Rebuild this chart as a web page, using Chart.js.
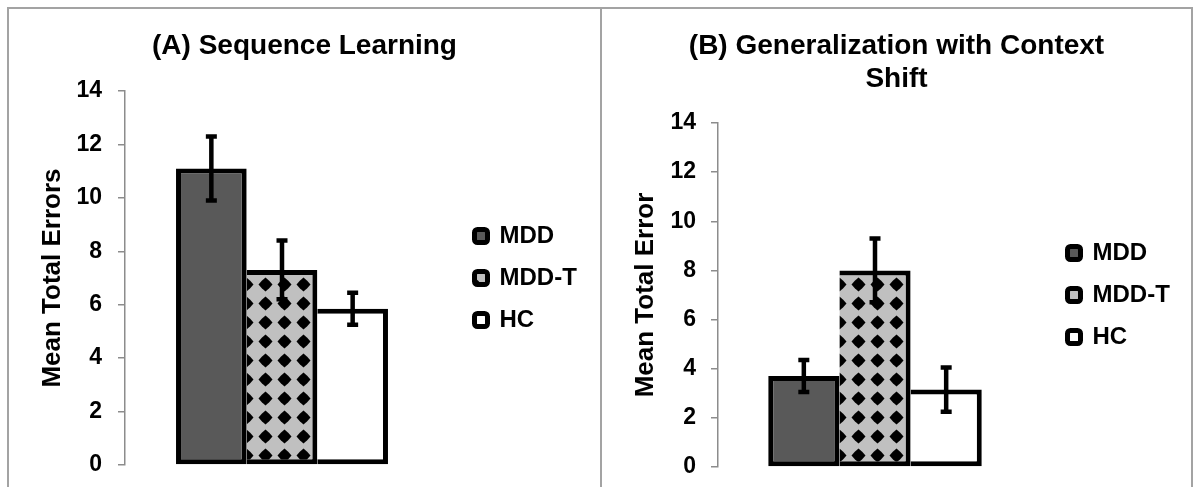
<!DOCTYPE html>
<html>
<head>
<meta charset="utf-8">
<title>Mean Total Errors</title>
<script src="https://cdn.jsdelivr.net/npm/chart.js@4.4.1/dist/chart.umd.min.js"></script>
<style>
  html, body { margin: 0; padding: 0; background: #fff; overflow: hidden; }
  body { width: 1195px; height: 487px; position: relative; }
  .pannello { position: absolute; top: 7px; height: 540px; border: 2px solid #a3a3a3; box-sizing: border-box; }
  #pannello-a { left: 7px; width: 595px; }
  #pannello-b { left: 600px; width: 593px; }
  .contenitore { position: absolute; top: 9px; height: 478px; }
  #contenitore-a { left: 9px; width: 591px; }
  #contenitore-b { left: 602px; width: 589px; }
</style>
</head>
<body>
<div class="pannello" id="pannello-a"></div>
<div class="pannello" id="pannello-b"></div>
<div class="contenitore" id="contenitore-a"><canvas id="grafico-a"></canvas></div>
<div class="contenitore" id="contenitore-b"><canvas id="grafico-b"></canvas></div>
<script>
// dati
const gruppi = ['MDD', 'MDD-T', 'HC'];
const mediaSequenza = [11.1, 7.3, 5.85];
const erroreSequenza = [1.2, 1.1, 0.6];
const mediaGeneralizzazione = [3.7, 8.0, 3.15];
const erroreGeneralizzazione = [0.65, 1.3, 0.9];
const asseMin = 0;
const asseMax = 14;
const passoTick = 2;

Chart.defaults.font.family = "'Liberation Sans', Arial, sans-serif";
Chart.defaults.color = '#000';

const LARGHEZZA_ASSE = 116;   // spazio a sinistra (titolo asse + etichette)
const LARGHEZZA_AREA = 314;   // area del grafico

// Motivo a rombi neri su grigio (MDD-T)
function creaMotivoRombi(passo) {
    const tile = document.createElement('canvas');
    tile.width = passo;
    tile.height = passo;
    const c = tile.getContext('2d');
    c.fillStyle = '#c0c0c0';
    c.fillRect(0, 0, passo, passo);
    c.fillStyle = '#000';
    const m = passo / 2, r = 7, k = 3.7;
    c.beginPath();
    c.moveTo(m, m - r);
    c.lineTo(m + k, m - k);
    c.lineTo(m + r, m);
    c.lineTo(m + k, m + k);
    c.lineTo(m, m + r);
    c.lineTo(m - k, m + k);
    c.lineTo(m - r, m);
    c.lineTo(m - k, m - k);
    c.closePath();
    c.fill();
    return c.createPattern(tile, 'repeat');
}

const riempimenti = ['#595959', creaMotivoRombi(19), '#ffffff'];

// Plugin: barre di errore disegnate sopra le colonne
const pluginBarreErrore = {
    id: 'barreErrore',
    afterDatasetsDraw(chart) {
        const ctx = chart.ctx;
        const y = chart.scales.y;
        chart.data.datasets.forEach((ds, i) => {
            const barra = chart.getDatasetMeta(i).data[0];
            if (!barra) return;
            const valore = ds.data[0];
            const yAlto = y.getPixelForValue(valore + ds.errore);
            const yBasso = y.getPixelForValue(valore - ds.errore);
            ctx.save();
            ctx.strokeStyle = '#000';
            ctx.lineWidth = 4.5;
            ctx.beginPath();
            ctx.moveTo(barra.x, yAlto);
            ctx.lineTo(barra.x, yBasso);
            ctx.moveTo(barra.x - 5.5, yAlto);
            ctx.lineTo(barra.x + 5.5, yAlto);
            ctx.moveTo(barra.x - 5.5, yBasso);
            ctx.lineTo(barra.x + 5.5, yBasso);
            ctx.stroke();
            ctx.restore();
        });
    }
};

function disegnaPannello(idCanvas, cfg) {
    const canvas = document.getElementById(idCanvas);
    if (!canvas) return;

    new Chart(canvas, {
        type: 'bar',
        data: {
            labels: [''],
            datasets: gruppi.map((nome, i) => ({
                label: nome,
                data: [cfg.medie[i]],
                errore: cfg.errori[i],
                backgroundColor: riempimenti[i],
                borderColor: '#000',
                borderWidth: 5,
                borderSkipped: i === 0 ? false : 'left', // bordo condiviso tra colonne vicine
                barPercentage: 1,
                categoryPercentage: cfg.percentualeCategoria
            }))
        },
        options: {
            responsive: true,
            maintainAspectRatio: false,
            animation: false,
            layout: { padding: { top: 0, right: 0, bottom: cfg.margineBasso, left: 0 } },
            plugins: {
                title: {
                    display: true,
                    text: cfg.titolo,
                    color: '#000',
                    font: { size: 28, weight: 'bold', lineHeight: 1.15 },
                    padding: { top: 21.5, bottom: cfg.titoloSotto }
                },
                legend: {
                    position: 'right',
                    fullSize: false, // alta quanto l'area del grafico
                    maxWidth: 200,   // altrimenti il testo viene tagliato
                    labels: {
                        color: '#000',
                        font: { size: 24, weight: 'bold' },
                        boxWidth: 13,
                        boxHeight: 13,
                        padding: 18,
                        useBorderRadius: true,
                        borderRadius: 3
                    }
                },
                tooltip: { enabled: false }
            },
            scales: {
                x: { display: false },
                y: {
                    min: asseMin,
                    max: asseMax,
                    ticks: { stepSize: passoTick, padding: cfg.paddingTick, color: '#000', font: { size: 23, weight: 'bold' } },
                    grid: { drawOnChartArea: false, drawTicks: true, tickLength: 7, color: '#8c8c8c', lineWidth: 1.5 },
                    border: { display: true, color: '#8c8c8c', width: 1.5 },
                    title: {
                        display: true,
                        text: cfg.titoloAsse,
                        color: '#000',
                        font: { size: 26, weight: 'bold' },
                        padding: { top: cfg.titoloAsseSopra, bottom: 0 }
                    },
                    afterFit: (s) => {
                        s.width = LARGHEZZA_ASSE;
                        s.paddingTop = 0;    // il margine lo decidono titolo e layout
                        s.paddingBottom = 0;
                    }
                },
                // spazi vuoti a destra per posizionare la legenda
                spazioLegenda: {
                    position: 'right',
                    grid: { display: false }, border: { display: false }, ticks: { display: false },
                    afterFit: (s) => { s.width = cfg.spazioLegenda; }
                },
                spazioDestro: {
                    position: 'right',
                    weight: 5000,
                    grid: { display: false }, border: { display: false }, ticks: { display: false },
                    afterFit: (s) => {
                        const legenda = s.chart.legend ? s.chart.legend.width : 0;
                        s.width = Math.max(0, s.chart.width - LARGHEZZA_ASSE - LARGHEZZA_AREA - cfg.spazioLegenda - legenda);
                    }
                }
            }
        },
        plugins: [pluginBarreErrore]
    });
}

disegnaPannello('grafico-a', {
    titolo: '(A) Sequence Learning',
    titoloAsse: 'Mean Total Errors',
    medie: mediaSequenza,
    errori: erroreSequenza,
    percentualeCategoria: 0.675,
    titoloSotto: 28.3,
    margineBasso: 22,
    paddingTick: 16,
    titoloAsseSopra: 27.9,
    spazioLegenda: 17.5
});

disegnaPannello('grafico-b', {
    titolo: ['(B) Generalization with Context', 'Shift'],
    titoloAsse: 'Mean Total Error',
    medie: mediaGeneralizzazione,
    errori: erroreGeneralizzazione,
    percentualeCategoria: 0.68,
    titoloSotto: 28.1,
    margineBasso: 20,
    paddingTick: 15,
    titoloAsseSopra: 28.4,
    spazioLegenda: 17.5
});
</script>
</body>
</html>
